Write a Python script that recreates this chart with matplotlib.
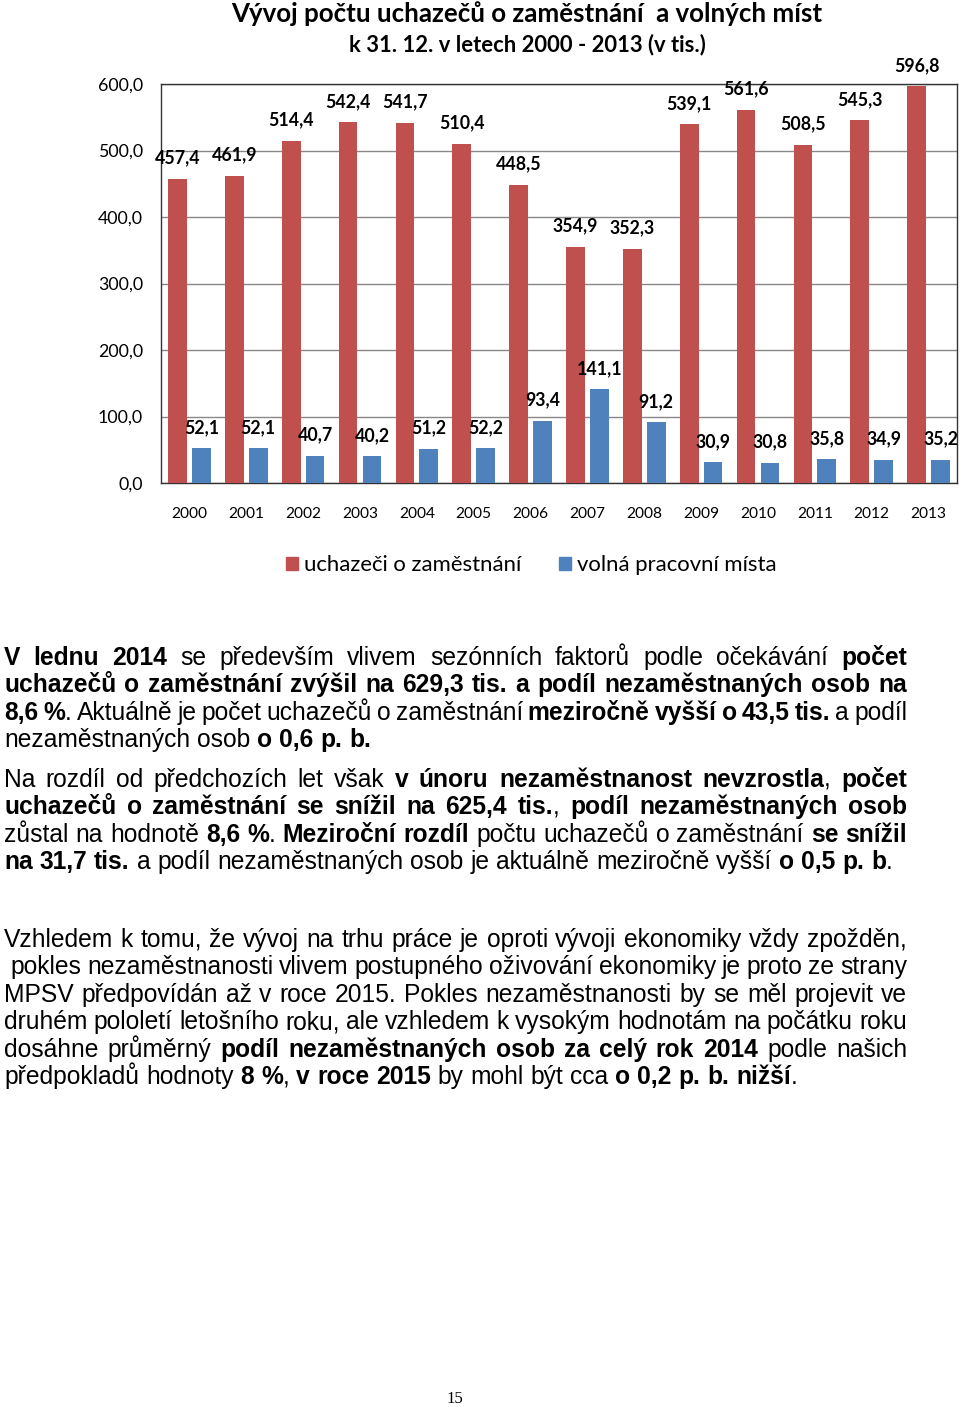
import numpy as np
import matplotlib
matplotlib.use("Agg")
import matplotlib.pyplot as plt
from matplotlib.patches import Patch

# chart data (tis.)
years = [str(y) for y in range(2000, 2014)]
uchazeci = [457.4, 461.9, 514.4, 542.4, 541.7, 510.4, 448.5, 354.9, 352.3, 539.1, 561.6, 508.5, 545.3, 596.8]
volna = [52.1, 52.1, 40.7, 40.2, 51.2, 52.2, 93.4, 141.1, 91.2, 30.9, 30.8, 35.8, 34.9, 35.2]
yticks = [0, 100, 200, 300, 400, 500, 600]
title1 = "Vývoj počtu uchazečů o zaměstnání  a volných míst"
title2 = "k 31. 12. v letech 2000 - 2013 (v tis.)"
legend_labels = ["uchazeči o zaměstnání", "volná pracovní místa"]

# text below the chart, **...** = bold
par1 = [
    "**V lednu 2014** se především vlivem sezónních faktorů podle očekávání **počet**",
    "**uchazečů o zaměstnání zvýšil na 629,3 tis. a podíl nezaměstnaných osob na**",
    "**8,6 %**. Aktuálně je počet uchazečů o zaměstnání **meziročně vyšší o 43,5 tis.** a podíl",
    "nezaměstnaných osob **o 0,6 p. b.**",
]
par2 = [
    "Na rozdíl od předchozích let však **v únoru nezaměstnanost nevzrostla**, **počet**",
    "**uchazečů o zaměstnání se snížil na 625,4 tis.**, **podíl nezaměstnaných osob**",
    "zůstal na hodnotě **8,6 %**. **Meziroční rozdíl** počtu uchazečů o zaměstnání **se snížil**",
    "**na 31,7 tis.** a podíl nezaměstnaných osob je aktuálně meziročně vyšší **o 0,5 p. b**.",
]
par3 = [
    "Vzhledem k tomu, že vývoj na trhu práce je oproti vývoji ekonomiky vždy zpožděn,",
    " pokles nezaměstnanosti vlivem postupného oživování ekonomiky je proto ze strany",
    "MPSV předpovídán až v roce 2015. Pokles nezaměstnanosti by se měl projevit ve",
    "druhém pololetí letošního roku, ale vzhledem k vysokým hodnotám na počátku roku",
    "dosáhne průměrný **podíl nezaměstnaných osob za celý rok 2014** podle našich",
    "předpokladů hodnoty **8 %**, **v roce 2015** by mohl být cca **o 0,2 p. b. nižší**.",
]
page_no = "15"

W, H = 960, 1407
chart_font = ["Lato", "DejaVu Sans"]
body_font = ["Liberation Sans", "DejaVu Sans"]
red = "#C0504D"
blue = "#4F81BD"

fig = plt.figure(figsize=(W / 100, H / 100), dpi=100)
ax = fig.add_axes([161 / W, 1 - 483 / H, (957 - 161) / W, (483 - 84) / H])

x = np.arange(len(years))
bw = 0.33
ax.bar(x - 0.21, uchazeci, bw, color=red, zorder=3)
ax.bar(x + 0.21, volna, bw, color=blue, zorder=3)
ax.set_xlim(-0.5, len(years) - 0.5)
ax.set_ylim(0, 600)
ax.set_yticks(yticks, [f"{v:.1f}".replace(".", ",") for v in yticks])
ax.set_xticks(x, years)
ax.tick_params(axis="both", length=0)
ax.tick_params(axis="y", pad=13, labelsize=12.8)
ax.tick_params(axis="x", pad=17.5, labelsize=11.2)
for lab in ax.get_xticklabels() + ax.get_yticklabels():
    lab.set_family(chart_font)
ax.yaxis.grid(True, color="#888888", lw=1)
ax.set_axisbelow(True)
for s in ax.spines.values():
    s.set_color("#333333")
    s.set_linewidth(1)

def fmt(v):
    return f"{v:.1f}".replace(".", ",")

for xi, v in zip(x, uchazeci):
    ax.annotate(fmt(v), (xi - 0.21, v), xytext=(0, 15), textcoords="offset points",
                ha="center", va="center", fontsize=12.8, fontweight="bold", family=chart_font)
for xi, v in zip(x, volna):
    ax.annotate(fmt(v), (xi + 0.21, v), xytext=(0, 15), textcoords="offset points",
                ha="center", va="center", fontsize=12.8, fontweight="bold", family=chart_font)

handles = [Patch(color=red), Patch(color=blue)]
fig.legend(handles, legend_labels, loc="center", bbox_to_anchor=(531 / W, 1 - 565 / H),
           ncol=2, frameon=False, prop={"family": chart_font, "size": 15.9},
           handlelength=0.55, handleheight=0.55, handletextpad=0.27, columnspacing=1.7)

# overlay axes in pixel coordinates for the text
tax = fig.add_axes([0, 0, 1, 1], zorder=-1)
tax.set_xlim(0, W)
tax.set_ylim(H, 0)
tax.axis("off")

tax.text(527, 14, title1, ha="center", va="center", fontsize=18.6, fontweight="bold", family=chart_font)
tax.text(527, 45, title2, ha="center", va="center", fontsize=15.8, fontweight="bold", family=chart_font)
tax.text(455, 1399, page_no, ha="center", va="center", fontsize=12, family=["Liberation Serif", "DejaVu Serif"])

renderer = fig.canvas.get_renderer()

def width(s, bold, fs):
    t = tax.text(0, 0, s, fontsize=fs, fontweight="bold" if bold else "normal", family=body_font)
    w = t.get_window_extent(renderer).width
    t.remove()
    return w

def parse(line):
    # returns leading spaces and words; each word = list of (text, bold)
    runs = line.split("**")
    chars = []
    for i, r in enumerate(runs):
        chars += [(c, i % 2 == 1) for c in r]
    lead = 0
    while chars and chars[0][0] == " ":
        lead += 1
        chars.pop(0)
    words, cur = [], []
    for c, b in chars + [(" ", False)]:
        if c == " ":
            if cur:
                words.append(cur)
            cur = []
            continue
        if cur and cur[-1][1] == b:
            cur[-1] = (cur[-1][0] + c, b)
        else:
            cur.append((c, b))
    return lead, words

# font size so that the first line of par3 is ~901 px wide
ref_w = width(par3[0], False, 10)
fs = 10 * 901 / ref_w

space = width("a a", False, fs) - width("aa", False, fs)
left, right = 4, 907
lh = 27.4

def draw_par(lines, y0):
    for k, line in enumerate(lines):
        lead, words = parse(line)
        wws = [[width(t, b, fs) for t, b in wd] for wd in words]
        tot = sum(sum(w) for w in wws)
        x0 = left + lead * space
        last = k == len(lines) - 1
        gap = space if last or len(words) < 2 else (right - x0 - tot) / (len(words) - 1)
        y = y0 + k * lh
        xx = x0
        for wd, ww in zip(words, wws):
            for (t, b), w in zip(wd, ww):
                tax.text(xx, y, t, fontsize=fs, fontweight="bold" if b else "normal",
                         family=body_font, ha="left", va="baseline")
                xx += w
            xx += gap

draw_par(par1, 665)
draw_par(par2, 787)
draw_par(par3, 947)

fig.savefig("out.png", dpi=100)
